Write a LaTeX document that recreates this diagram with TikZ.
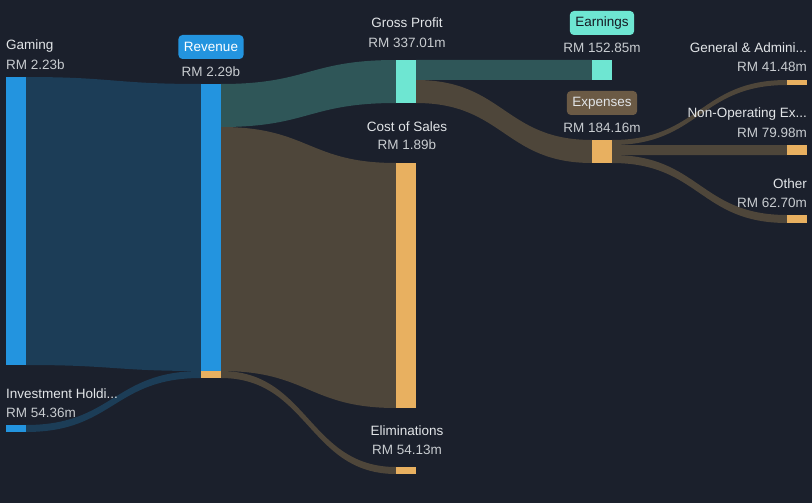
\documentclass[tikz,border=0pt]{standalone}
\usepackage{fontspec}
\setmainfont{Liberation Sans}
\usetikzlibrary{calc}
\definecolor{bg}{HTML}{1B202C}
\definecolor{barblue}{HTML}{2394DF}
\definecolor{flowblue}{HTML}{1C3D57}
\definecolor{barteal}{HTML}{6EE6D2}
\definecolor{flowteal}{HTML}{2F5658}
\definecolor{barorange}{HTML}{E8B060}
\definecolor{flowbrown}{HTML}{4E463A}
\definecolor{pillbrown}{HTML}{6B5A45}
\definecolor{txtname}{HTML}{E2E5E8}
\definecolor{txtval}{HTML}{C8CCD0}
\newcommand{\flowband}[5]{%
  \fill[#5] (#1) .. controls +(87.5,0) and +(-87.5,0) .. (#3) -- (#4)
    .. controls +(-87.5,0) and +(87.5,0) .. (#2) -- cycle;}
\tikzset{
  bar/.style={rectangle, draw=none, inner sep=0pt, outer sep=0pt, minimum width=20pt, anchor=north west},
  lbl/.style={inner sep=0pt, font=\fontsize{13.5}{15}\selectfont, text=txtname},
  val/.style={inner sep=0pt, font=\fontsize{13.5}{15}\selectfont, text=txtval},
  pill/.style={rounded corners=4pt, inner xsep=5.5pt, minimum height=24pt, font=\fontsize{13.5}{15}\selectfont}
}
\begin{document}
\begin{tikzpicture}[x=1pt,y=-1pt]
\fill[bg] (0,0) rectangle (812,503);
\useasboundingbox (0,0) rectangle (812,503);
% bars
\node[bar, fill=barblue, minimum height=288pt] (gam) at (6,77) {};
\node[bar, fill=barblue, minimum height=7pt] (inv) at (6,425) {};
\node[bar, fill=barblue, minimum height=287pt] (rev) at (201,84) {};
\node[bar, fill=barorange, minimum height=7pt] (revx) at (201,371) {};
\node[bar, fill=barteal, minimum height=43pt] (gp) at (396,60) {};
\node[bar, fill=barorange, minimum height=245pt] (cos) at (396,163) {};
\node[bar, fill=barorange, minimum height=7pt] (eli) at (396,467) {};
\node[bar, fill=barteal, minimum height=20pt] (ear) at (592,60) {};
\node[bar, fill=barorange, minimum height=23pt] (exp) at (592,140) {};
\node[bar, fill=barorange, minimum height=5pt] (gna) at (787,80) {};
\node[bar, fill=barorange, minimum height=10pt] (nop) at (787,145) {};
\node[bar, fill=barorange, minimum height=8pt] (oth) at (787,215) {};
% flow end coordinates
\coordinate (revGP) at ($(rev.north east)+(0,43)$);
\coordinate (gpE) at ($(gp.north east)+(0,20)$);
\coordinate (exA) at ($(exp.north east)+(0,5)$);
\coordinate (exB) at ($(exp.north east)+(0,15)$);
\flowband{gam.north east}{gam.south east}{rev.north west}{rev.south west}{flowblue}
\flowband{inv.north east}{inv.south east}{revx.north west}{revx.south west}{flowblue}
\flowband{rev.north east}{revGP}{gp.north west}{gp.south west}{flowteal}
\flowband{revGP}{rev.south east}{cos.north west}{cos.south west}{flowbrown}
\flowband{revx.north east}{revx.south east}{eli.north west}{eli.south west}{flowbrown}
\flowband{gp.north east}{gpE}{ear.north west}{ear.south west}{flowteal}
\flowband{gpE}{gp.south east}{exp.north west}{exp.south west}{flowbrown}
\flowband{exp.north east}{exA}{gna.north west}{gna.south west}{flowbrown}
\flowband{exA}{exB}{nop.north west}{nop.south west}{flowbrown}
\flowband{exB}{exp.south east}{oth.north west}{oth.south west}{flowbrown}
% redraw bars on top
\foreach \b/\c in {gam/barblue,inv/barblue,rev/barblue,revx/barorange,gp/barteal,cos/barorange,eli/barorange,ear/barteal,exp/barorange,gna/barorange,nop/barorange,oth/barorange}{
  \fill[\c] (\b.north west) rectangle (\b.south east);
}
% labels
\node[lbl, anchor=west] (tGam) at (6,46) {Gaming};
\node[val, anchor=west] (vGam) at (6,65) {RM 2.23b};
\node[lbl, anchor=west] (tInv) at (6,394) {Investment Holdi...};
\node[val, anchor=west] (vInv) at (6,413) {RM 54.36m};
\node[pill, fill=barblue, text=white] (tRev) at (211,47) {Revenue};
\node[val] (vRev) at (211,72) {RM 2.29b};
\node[lbl] (tGP) at (407,23) {Gross Profit};
\node[val] (vGP) at (407,43) {RM 337.01m};
\node[lbl] (tCos) at (407,127) {Cost of Sales};
\node[val] (vCos) at (407,145) {RM 1.89b};
\node[lbl] (tEli) at (407,431) {Eliminations};
\node[val] (vEli) at (407,450) {RM 54.13m};
\node[pill, fill=barteal, text=bg!80!black] (tEar) at (602,23) {Earnings};
\node[val] (vEar) at (602,48) {RM 152.85m};
\node[pill, fill=pillbrown, text=txtname] (tExp) at (602,103) {Expenses};
\node[val] (vExp) at (602,128) {RM 184.16m};
\node[lbl, anchor=east] (tGna) at (807,48) {General \& Admini...};
\node[val, anchor=east] (vGna) at (807,67) {RM 41.48m};
\node[lbl, anchor=east] (tNop) at (807,114) {Non-Operating Ex...};
\node[val, anchor=east] (vNop) at (807,133) {RM 79.98m};
\node[lbl, anchor=east] (tOth) at (807,184) {Other};
\node[val, anchor=east] (vOth) at (807,203) {RM 62.70m};
\end{tikzpicture}
\end{document}
